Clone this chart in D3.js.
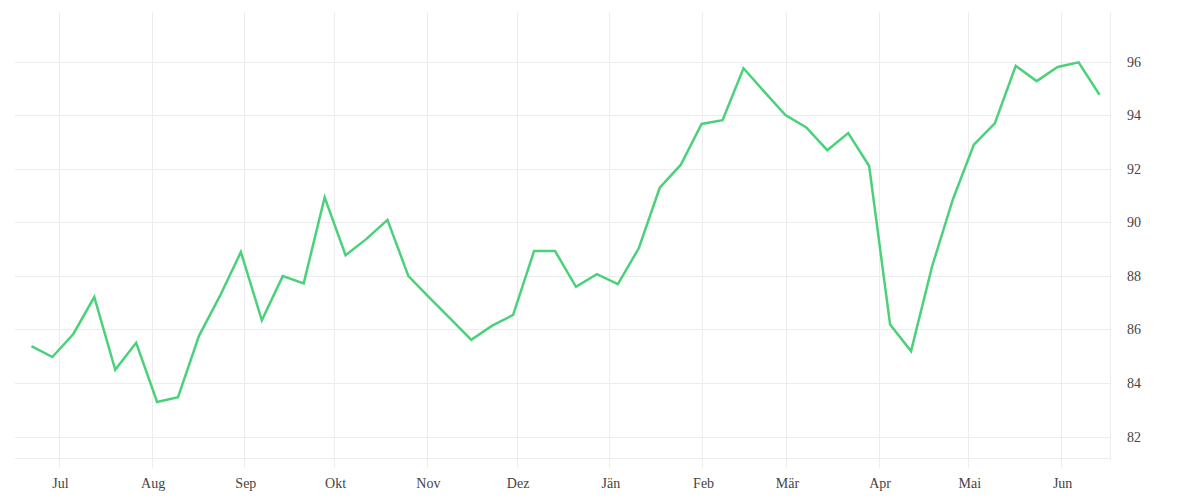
<!DOCTYPE html>
<html>
<head>
<meta charset="utf-8">
<script src="https://cdn.jsdelivr.net/npm/d3@7"></script>
<style>
  html, body { margin: 0; padding: 0; background: #fff; }
  svg { display: block; }
  text { font-family: "Liberation Serif", "DejaVu Serif", serif; fill: #444; }
</style>
</head>
<body>
<svg id="chart" width="1200" height="500"></svg>
<script>
const dates = [
  "2022-06-21","2022-06-28","2022-07-05","2022-07-12","2022-07-19","2022-07-26",
  "2022-08-02","2022-08-09","2022-08-16","2022-08-23","2022-08-30","2022-09-06",
  "2022-09-13","2022-09-20","2022-09-27","2022-10-04","2022-10-11","2022-10-18",
  "2022-10-25","2022-11-01","2022-11-08","2022-11-15","2022-11-22","2022-11-29",
  "2022-12-06","2022-12-13","2022-12-20","2022-12-27","2023-01-03","2023-01-10",
  "2023-01-17","2023-01-24","2023-01-31","2023-02-07","2023-02-14","2023-02-21",
  "2023-02-28","2023-03-07","2023-03-14","2023-03-21","2023-03-28","2023-04-04",
  "2023-04-11","2023-04-18","2023-04-25","2023-05-02","2023-05-09","2023-05-16",
  "2023-05-23","2023-05-30","2023-06-06","2023-06-13"
];
const values = [
  85.38, 84.97, 85.83, 87.21, 84.49, 85.50, 83.29, 83.47, 85.76, 87.25,
  88.89, 86.34, 87.99, 87.72, 90.93, 88.77, 89.38, 90.09, 87.99, 87.19,
  86.40, 85.61, 86.14, 86.54, 88.93, 88.93, 87.59, 88.06, 87.69, 89.03,
  91.29, 92.14, 93.67, 93.81, 95.75, 94.87, 94.00, 93.54, 92.69, 93.33,
  92.10, 86.18, 85.19, 88.34, 90.86, 92.90, 93.69, 95.84, 95.27, 95.80,
  95.97, 94.76
];
const monthTicks = ["2022-07-01","2022-08-01","2022-09-01","2022-10-01","2022-11-01","2022-12-01",
                    "2023-01-01","2023-02-01","2023-03-01","2023-04-01","2023-05-01","2023-06-01"];
const monthLabels = ["Jul","Aug","Sep","Okt","Nov","Dez","Jän","Feb","Mär","Apr","Mai","Jun"];
const yTicks = [82, 84, 86, 88, 90, 92, 94, 96];

const parse = d3.utcParse("%Y-%m-%d");
const parseNoon = s => d3.utcParse("%Y-%m-%dT%H:%M")(s + "T12:00");
const data = dates.map((d, i) => ({ date: parseNoon(d), value: values[i] }));
const tickDates = monthTicks.map(parse);

const plotLeft = 15, plotRight = 1110, plotTop = 12, plotBottom = 458;
const x = d3.scaleUtc()
  .domain([parse("2022-06-16"), parse("2023-06-17")])
  .range([plotLeft, plotRight]);
const y = d3.scaleLinear()
  .domain([81.2, 97.85])
  .range([plotBottom, plotTop]);

const svg = d3.select("#chart");
const grid = "#ececec";

// horizontal grid
svg.append("g").selectAll("line").data(yTicks).join("line")
  .attr("x1", plotLeft).attr("x2", plotRight)
  .attr("y1", d => Math.round(y(d)) + 0.5).attr("y2", d => Math.round(y(d)) + 0.5)
  .attr("stroke", grid).attr("stroke-width", 1);

// bottom border
svg.append("line")
  .attr("x1", plotLeft).attr("x2", plotRight)
  .attr("y1", plotBottom + 0.5).attr("y2", plotBottom + 0.5)
  .attr("stroke", grid);

// vertical grid (extending below as tick marks)
svg.append("g").selectAll("line").data(tickDates).join("line")
  .attr("x1", d => Math.round(x(d)) - 0.5).attr("x2", d => Math.round(x(d)) - 0.5)
  .attr("y1", plotTop).attr("y2", plotBottom + 10)
  .attr("stroke", grid);

// right border
svg.append("line")
  .attr("x1", plotRight + 0.5).attr("x2", plotRight + 0.5)
  .attr("y1", plotTop).attr("y2", plotBottom + 2)
  .attr("stroke", grid);

// x axis labels
const xAxis = d3.axisBottom(x)
  .tickValues(tickDates)
  .tickFormat((d, i) => monthLabels[i])
  .tickSize(0).tickPadding(0);
const gx = svg.append("g").attr("transform", `translate(0,${plotBottom})`).call(xAxis);
gx.select(".domain").remove();
gx.selectAll("text")
  .attr("y", 30).attr("dy", null)
  .style("font-family", "'Liberation Serif', 'DejaVu Serif', serif")
  .style("font-size", "14px").attr("fill", "#444");

// y axis labels (right)
const yAxis = d3.axisRight(y).tickValues(yTicks).tickSize(0).tickPadding(0);
const gy = svg.append("g").attr("transform", `translate(1127,0)`).call(yAxis);
gy.select(".domain").remove();
gy.selectAll("text")
  .style("font-family", "'Liberation Serif', 'DejaVu Serif', serif")
  .style("font-size", "14px").attr("fill", "#444");

// line
const line = d3.line().x(d => x(d.date)).y(d => y(d.value));
svg.append("path").datum(data)
  .attr("d", line)
  .attr("fill", "none")
  .attr("stroke", "#4cd17b")
  .attr("stroke-width", 2.5)
  .attr("stroke-linejoin", "miter");
</script>
</body>
</html>
